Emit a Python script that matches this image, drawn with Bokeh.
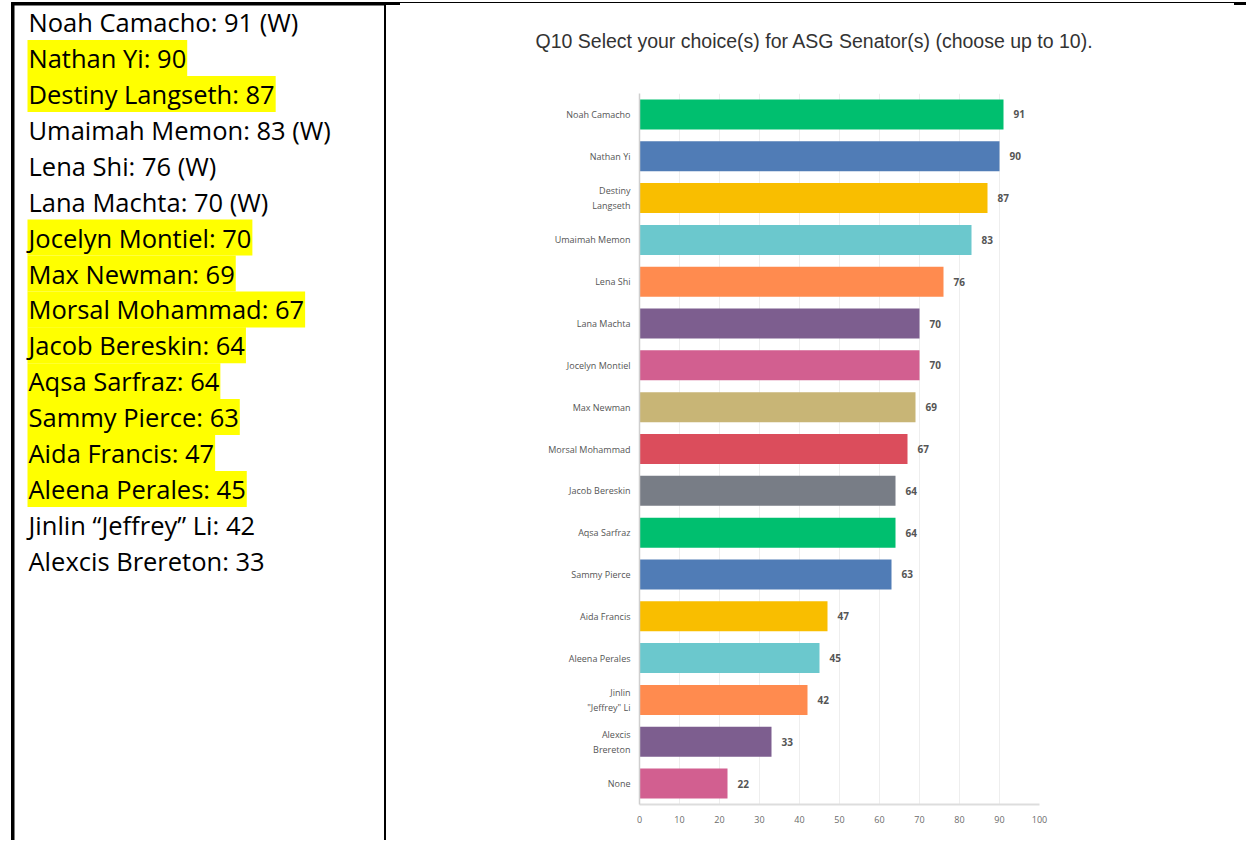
from bokeh.plotting import figure
from bokeh.models import ColumnDataSource, Range1d, FactorRange, FixedTicker, Title
from bokeh.layouts import row
from bokeh.embed import file_html
from bokeh.resources import INLINE
from bokeh.core.properties import value

# ---------------- data: left text list ----------------
list_names = ["Noah Camacho", "Nathan Yi", "Destiny Langseth", "Umaimah Memon", "Lena Shi",
              "Lana Machta", "Jocelyn Montiel", "Max Newman", "Morsal Mohammad", "Jacob Bereskin",
              "Aqsa Sarfraz", "Sammy Pierce", "Aida Francis", "Aleena Perales",
              "Jinlin \u201cJeffrey\u201d Li", "Alexcis Brereton"]
list_votes = [91, 90, 87, 83, 76, 70, 70, 69, 67, 64, 64, 63, 47, 45, 42, 33]
list_winner = [True, False, False, True, True, True, False, False, False, False,
               False, False, False, False, False, False]
list_highlight = [False, True, True, False, False, False, True, True, True, True,
                  True, True, True, True, False, False]

# ---------------- data: chart ----------------
categories = ["Noah Camacho", "Nathan Yi", "Destiny\nLangseth", "Umaimah Memon", "Lena Shi",
              "Lana Machta", "Jocelyn Montiel", "Max Newman", "Morsal Mohammad", "Jacob Bereskin",
              "Aqsa Sarfraz", "Sammy Pierce", "Aida Francis", "Aleena Perales",
              "Jinlin\n\"Jeffrey\" Li", "Alexcis\nBrereton", "None"]
counts = [91, 90, 87, 83, 76, 70, 70, 69, 67, 64, 64, 63, 47, 45, 42, 33, 22]
bar_colors = ["#00bf6f", "#507cb6", "#f9be00", "#6bc8cd", "#ff8b4f", "#7d5e8f", "#d25f90",
              "#c8b576", "#db4d5c", "#787d86", "#00bf6f", "#507cb6", "#f9be00", "#6bc8cd",
              "#ff8b4f", "#7d5e8f", "#d25f90"]
x_ticks = [0, 10, 20, 30, 40, 50, 60, 70, 80, 90, 100]
title_text = "Q10 Select your choice(s) for ASG Senator(s) (choose up to 10)."

H = 840
W_L = 386
W_R = 860

# ---------------- left panel ----------------
left = figure(width=W_L, height=H, x_range=Range1d(0, W_L), y_range=Range1d(H, 0),
              output_backend="svg", toolbar_location=None, min_border=0,
              x_axis_type=None, y_axis_type=None, outline_line_color=None,
              frame_align=False)
left.grid.visible = False

row_y0 = 21.7
row_pitch = 35.9
texts = [f"{n}: {v}" + (" (W)" if w else "") for n, v, w in zip(list_names, list_votes, list_winner)]
lsrc = ColumnDataSource(dict(
    x=[27] * len(texts),
    y=[row_y0 + i * row_pitch for i in range(len(texts))],
    text=texts,
    bga=[1.0 if h else 0.0 for h in list_highlight],
))
left.text(x="x", y="y", text="text", source=lsrc, text_font=value("Open Sans"),
          text_font_size="25.5px", text_color="#000000", text_align="left",
          text_baseline="middle", background_fill_color="#ffff00",
          background_fill_alpha="bga", padding=dict(x=1, y=1))

# table borders
left.quad(left=[11], right=[13.5], top=[2], bottom=[H], color="black")
left.quad(left=[384], right=[386], top=[2], bottom=[H], color="black")
left.quad(left=[11], right=[W_L], top=[2], bottom=[4.5], color="black")

# ---------------- right panel (chart) ----------------
right = figure(width=W_R, height=H, y_range=FactorRange(factors=categories[::-1]),
               x_range=Range1d(0, 100), output_backend="svg", toolbar_location=None,
               min_border_left=253, min_border_right=207, min_border_top=93,
               min_border_bottom=36, outline_line_color=None, title=None,
               frame_align=False)

# spacer (nearest the frame), then the chart title above it
right.add_layout(Title(text=" ", text_font_size="1px", standoff=39), "above")
right.add_layout(Title(text=title_text, align="left", offset=-104, standoff=0,
                       text_font="Liberation Sans", text_font_size="19.5px",
                       text_font_style="normal", text_color="#333333"), "above")

src = ColumnDataSource(dict(cat=categories, count=counts, color=bar_colors,
                            label=[str(c) for c in counts]))
right.hbar(y="cat", left=0, right="count", height=0.717, color="color", source=src,
           line_color=None)
right.text(x="count", y="cat", text="label", source=src, x_offset=10,
           text_baseline="middle", text_align="left", text_font=value("Open Sans"),
           text_font_size="10px", text_font_style="bold", text_color="#555555")

right.xaxis.ticker = FixedTicker(ticks=x_ticks)
right.xaxis.major_tick_line_color = None
right.xaxis.minor_tick_line_color = None
right.xaxis.axis_line_color = "#dddddd"
right.xaxis.axis_line_width = 2
right.xaxis.major_label_text_font = "Open Sans"
right.xaxis.major_label_text_font_size = "9px"
right.xaxis.major_label_text_color = "#6b6b6b"
right.xaxis.major_label_standoff = 5

right.yaxis.major_tick_line_color = None
right.yaxis.minor_tick_line_color = None
right.yaxis.axis_line_color = "#cfcfcf"
right.yaxis.axis_line_width = 1.5
right.yaxis.major_label_text_font = "Open Sans"
right.yaxis.major_label_text_font_size = "9px"
right.yaxis.major_label_text_color = "#555555"
right.yaxis.major_label_text_line_height = 1.15
right.yaxis.major_label_standoff = 3

right.xgrid.grid_line_color = "#eeeeee"
right.ygrid.grid_line_color = None

# top border of the table over the chart cell
right.styles = {
    "background-color": "#ffffff",
    "background-image": "linear-gradient(#000000, #000000), linear-gradient(#000000, #000000), linear-gradient(#000000, #000000)",
    "background-size": "100% 1.2px, 14px 3px, 12px 3px",
    "background-position": "0px 2px, 0px 2px, right 0px top 2px",
    "background-repeat": "no-repeat",
}
right.border_fill_color = None

p = row(left, right)
open("out.html", "w").write(file_html(p, INLINE))
